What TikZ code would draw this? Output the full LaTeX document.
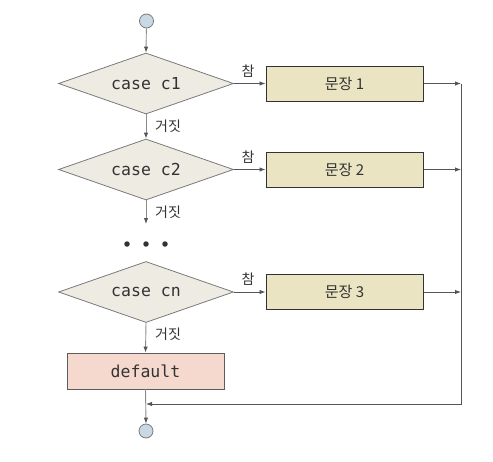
\documentclass[tikz,border=0pt]{standalone}
\usepackage{fontspec}
\newfontfamily\kr{Noto Sans CJK KR}
\newfontfamily\mono{DejaVu Sans Mono}
\usetikzlibrary{shapes.geometric,arrows.meta}
\definecolor{dfill}{HTML}{EEEBE3}
\definecolor{dline}{HTML}{7A7A7A}
\definecolor{bfill}{HTML}{EAE4C2}
\definecolor{pfill}{HTML}{F5D8CE}
\definecolor{cfill}{HTML}{C9D9E3}
\definecolor{txt}{HTML}{333333}
\definecolor{conn}{HTML}{555555}
\tikzset{
  cond/.style={diamond, shape aspect=2.87, draw=dline, line width=0.8pt, fill=dfill, minimum width=175pt, minimum height=61pt, inner sep=0pt, text=txt, font=\mono\fontsize{16.5}{17}\selectfont},
  stmt/.style={rectangle, draw=txt, line width=1pt, fill=bfill, minimum width=157pt, minimum height=35pt, inner sep=0pt, text=txt, font=\kr\fontsize{15}{16}\selectfont},
  dbox/.style={rectangle, draw=txt!80, line width=0.9pt, fill=pfill, minimum width=157pt, minimum height=36pt, inner sep=0pt, text=txt, font=\mono\fontsize{16.5}{17}\selectfont},
  term/.style={circle, draw=dline, line width=0.8pt, fill=cfill, minimum size=14pt, inner sep=0pt},
  dot/.style={circle, fill=txt, minimum size=5.5pt, inner sep=0pt},
  arr/.style={draw=conn, line width=0.9pt, -{Latex[length=6pt,width=4.5pt]}},
  varr/.style={draw=gray!90, line width=0.9pt, -{Latex[length=6pt,width=4.5pt,color=conn]}},
  lbl/.style={text=txt, font=\kr\fontsize{14}{15}\selectfont, inner sep=0pt}
}
\begin{document}
\begin{tikzpicture}[x=1pt,y=-1pt]
\useasboundingbox (0,0) rectangle (493,461);
\node[term] (start) at (146.5,21) {};
\node[cond] (d1) at (146,83.5) {case c1};
\node[cond] (d2) at (146,169.5) {case c2};
\node[cond] (d3) at (146,292) {case cn};
\node[stmt] (b1) at (344.5,83.5) {문장 1};
\node[stmt] (b2) at (344.5,169.5) {문장 2};
\node[stmt] (b3) at (344.5,292) {문장 3};
\node[dbox] (dflt) at (145.5,371) {default};
\node[term] (end) at (146,431) {};
\node[dot] (p1) at (127,244) {};
\node[dot] (p2) at (146,244) {};
\node[dot] (p3) at (165,244) {};
\coordinate (r1) at (461,83.5);
\coordinate (r2) at (461,169.5);
\coordinate (r3) at (461,292);
\coordinate (rb) at (461,404);
\coordinate (lb) at (146,404);
\coordinate (d2out) at (146,224);

\draw[varr] (start) -- (d1.north);
\draw[varr] (d1.south) -- (d2.north);
\draw[varr] (d2.south) -- (d2out);
\draw[varr] (d3.south) -- (dflt.north);
\draw[varr] (dflt.south) -- (end.north);

\draw[arr] (d1.east) -- (b1.west);
\draw[arr] (d2.east) -- (b2.west);
\draw[arr] (d3.east) -- (b3.west);
\draw[arr] (b1.east) -- (r1);
\draw[arr] (b2.east) -- (r2);
\draw[arr] (b3.east) -- (r3);
\draw[arr] (r1) -- (rb) -- (lb);

\node[lbl] (t1) at (248,71) {참};
\node[lbl] (t2) at (248,157) {참};
\node[lbl] (t3) at (248,279.5) {참};
\node[lbl] (f1) at (168,126) {거짓};
\node[lbl] (f2) at (168,212) {거짓};
\node[lbl] (f3) at (168,334) {거짓};
\end{tikzpicture}
\end{document}
